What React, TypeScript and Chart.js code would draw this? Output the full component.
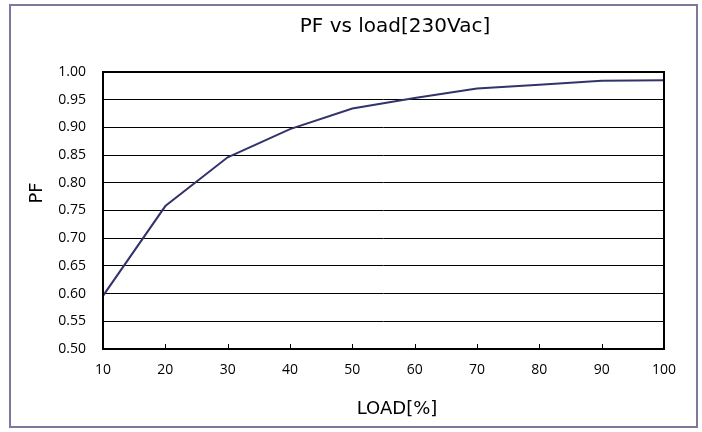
import React, { useEffect, useRef } from "react";
import { Chart, registerables } from "chart.js";

Chart.register(...registerables);

const loads = [10, 20, 30, 40, 50, 60, 70, 80, 90, 100];
const pfValues = [0.596, 0.758, 0.846, 0.897, 0.934, 0.953, 0.970, 0.977, 0.984, 0.985];
const xTicks = [10, 20, 30, 40, 50, 60, 70, 80, 90, 100];
const titleText = "PF vs load[230Vac]";
const xTitle = "LOAD[%]";
const yTitle = "PF";

const TICK_FONT = "'Open Sans', 'DejaVu Sans', sans-serif";
const TITLE_FONT = "'DejaVu Sans', sans-serif";

const framePlugin = {
  id: "frame",
  beforeDraw(chart: any) {
    const ctx = chart.ctx;
    ctx.save();
    ctx.fillStyle = "#ffffff";
    ctx.fillRect(0, 0, chart.width, chart.height);
    ctx.strokeStyle = "#7a7a9c";
    ctx.lineWidth = 2;
    ctx.strokeRect(10, 5, 687, 422);
    ctx.restore();
  },
  afterDraw(chart: any) {
    const { ctx, chartArea } = chart;
    const xs = chart.scales.x;
    ctx.save();
    ctx.strokeStyle = "#000";
    ctx.lineWidth = 1;
    xs.ticks.forEach((_t: any, i: number) => {
      const px = Math.round(xs.getPixelForTick(i)) + 0.5;
      ctx.beginPath();
      ctx.moveTo(px, chartArea.bottom);
      ctx.lineTo(px, chartArea.bottom - 5);
      ctx.stroke();
    });
    ctx.lineWidth = 2;
    ctx.strokeRect(chartArea.left, chartArea.top, chartArea.right - chartArea.left, chartArea.bottom - chartArea.top);

    // titles
    ctx.fillStyle = "#000";
    ctx.textAlign = "center";
    ctx.textBaseline = "middle";
    ctx.font = `20px ${TITLE_FONT}`;
    ctx.fillText(titleText, 395, 27);
    ctx.font = `18px ${TITLE_FONT}`;
    ctx.fillText(xTitle, 397, 409);
    ctx.translate(37, 193);
    ctx.rotate(-Math.PI / 2);
    ctx.fillText(yTitle, 0, 0);
    ctx.restore();
  },
};

export default function App() {
  const ref = useRef<HTMLCanvasElement>(null);
  useEffect(() => {
    document.body.style.margin = "0";
    const chart = new Chart(ref.current!, {
      type: "line",
      data: {
        datasets: [
          {
            data: loads.map((x, i) => ({ x, y: pfValues[i] })),
            borderColor: "#33336b",
            borderWidth: 2,
            pointRadius: 0,
            tension: 0,
          },
        ],
      },
      options: {
        responsive: false,
        animation: false,
        events: [],
        layout: { padding: { left: 10, right: 38, top: 72, bottom: 5 } },
        plugins: {
          legend: { display: false },
          tooltip: { enabled: false },
          title: { display: false },
        },
        scales: {
          x: {
            type: "linear",
            min: 10,
            max: 100,
            afterBuildTicks: (s: any) => {
              s.ticks = xTicks.map((v) => ({ value: v }));
            },
            afterFit: (s: any) => {
              s.height = 78;
            },
            grid: { display: false, drawTicks: false },
            border: { display: false },
            ticks: {
              color: "#000",
              font: { family: TICK_FONT, size: 14 },
              padding: 13,
              maxRotation: 0,
              autoSkip: false,
            },
          },
          y: {
            min: 0.5,
            max: 1.0,
            afterFit: (s: any) => {
              s.width = 93;
            },
            grid: { color: "#000", lineWidth: 1, drawTicks: false },
            border: { display: false },
            ticks: {
              stepSize: 0.05,
              color: "#000",
              font: { family: TICK_FONT, size: 14 },
              padding: 17,
              callback: (v: any) => Number(v).toFixed(2),
            },
          },
        },
      },
      plugins: [framePlugin],
    } as any);
    return () => chart.destroy();
  }, []);
  return <canvas ref={ref} width={702} height={432} style={{ display: "block" }} />;
}
